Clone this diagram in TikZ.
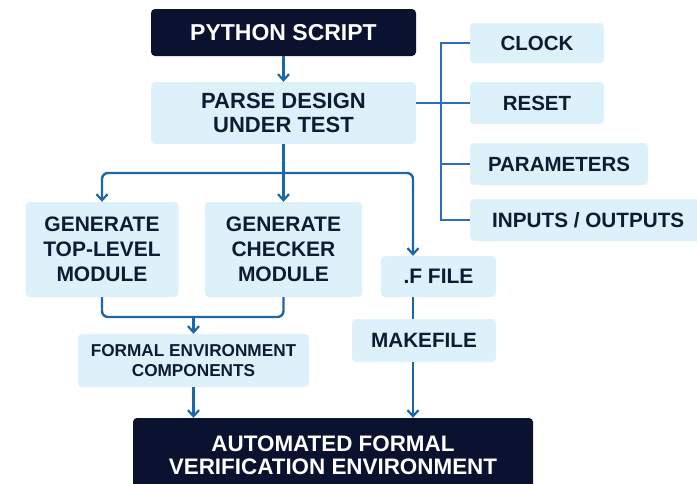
\documentclass[tikz,border=0pt]{standalone}
\usepackage{fontspec}
\setmainfont{Liberation Sans}
\usetikzlibrary{arrows.meta}
\definecolor{navy}{HTML}{0B1230}
\definecolor{pale}{HTML}{DDF1FA}
\definecolor{flowblue}{HTML}{1C68A6}
\definecolor{sideblue}{HTML}{2E6BC4}
\definecolor{ink}{HTML}{0F1A33}
\tikzset{
  darkbox/.style={fill=navy, rounded corners=4pt, text=white, font=\bfseries, align=center, inner sep=0pt},
  lightbox/.style={fill=pale, rounded corners=4pt, text=ink, font=\bfseries, align=center, inner sep=0pt},
  flow/.style={draw=flowblue, line width=2.4pt},
  flowarrow/.style={flow, -{Straight Barb[length=6pt,width=11pt,line width=2.2pt]}},
  sideline/.style={draw=sideblue, line width=2.4pt},
}
\begin{document}
\begin{tikzpicture}[x=1pt,y=-1pt]
\useasboundingbox (0,0) rectangle (697,483);

% main column
\node[darkbox, minimum width=265pt, minimum height=47pt, font=\bfseries\fontsize{23}{27}\selectfont] (python) at (283.5,32.5) {PYTHON SCRIPT};
\node[lightbox, minimum width=265pt, minimum height=62pt, font=\bfseries\fontsize{22}{24}\selectfont] (parse) at (283.5,113) {PARSE DESIGN\\UNDER TEST};

% extracted design information
\node[lightbox, minimum width=134pt, minimum height=40pt, font=\bfseries\fontsize{20.5}{24}\selectfont] (clock) at (537,43) {CLOCK};
\node[lightbox, minimum width=134pt, minimum height=42pt, font=\bfseries\fontsize{20.5}{24}\selectfont] (reset) at (537,103) {RESET};
\node[lightbox, minimum width=178pt, minimum height=42pt, font=\bfseries\fontsize{20.5}{24}\selectfont] (params) at (559,164) {PARAMETERS};
\node[lightbox, minimum width=234pt, minimum height=42pt, font=\bfseries\fontsize{20.7}{24}\selectfont, anchor=west] (io) at (470,220) {\hspace*{21pt}INPUTS / OUTPUTS\hspace*{19pt}};

% generators
\node[lightbox, minimum width=153pt, minimum height=95pt, font=\bfseries\fontsize{21}{25}\selectfont] (gentop) at (102,249.5) {GENERATE\\TOP-LEVEL\\MODULE};
\node[lightbox, minimum width=157pt, minimum height=95pt, font=\bfseries\fontsize{21}{25}\selectfont] (genchk) at (283.5,249.5) {GENERATE\\CHECKER\\MODULE};
\node[lightbox, minimum width=115pt, minimum height=41pt, font=\bfseries\fontsize{21}{25}\selectfont] (ffile) at (438.5,276.5) {.F FILE};
\node[lightbox, minimum width=144pt, minimum height=43pt, font=\bfseries\fontsize{20.7}{25}\selectfont] (make) at (424,340.5) {MAKEFILE};
\node[lightbox, minimum width=231pt, minimum height=53pt, font=\bfseries\fontsize{17.2}{19.5}\selectfont] (formal) at (193.5,360.5) {FORMAL ENVIRONMENT\\COMPONENTS};
\node[darkbox, minimum width=400pt, minimum height=74pt, font=\bfseries\fontsize{22.4}{23}\selectfont] (auto) at (333,455) {AUTOMATED FORMAL\\VERIFICATION ENVIRONMENT};

% helper points
\coordinate (split) at (283.5,173);
\coordinate (rcol) at (413,0);
\coordinate (spine) at (441,0);
\coordinate (join) at (193.5,317);

% script drives the parser
\draw[flowarrow] (python.south) -- (parse.north);

% parser outputs fan out to the side boxes
\draw[sideline] (clock.west) -- (spine |- clock.west) -- (spine |- io.west) -- (io.west);
\draw[sideline] (parse.east |- reset.west) -- (reset.west);
\draw[sideline] (spine |- params.west) -- (params.west);

% parser feeds the generators
\draw[flow] (parse.south) -- (split);
\draw[flowarrow, rounded corners=6pt] (split) -| (gentop.north);
\draw[flowarrow] (split) -- (genchk.north);
\draw[flowarrow, rounded corners=6pt] (split) -| (rcol |- ffile.north);

% file list and makefile
\draw[flow] (rcol |- ffile.south) -- (rcol |- make.north);
\draw[flowarrow] (rcol |- make.south) -- (rcol |- auto.north);

% generated modules merge into the formal components
\draw[flow, rounded corners=6pt] (gentop.south) |- (join) -| (genchk.south);
\draw[flowarrow] (join) -- (formal.north);
\draw[flowarrow] (formal.south) -- (formal.south |- auto.north);
\end{tikzpicture}
\end{document}
